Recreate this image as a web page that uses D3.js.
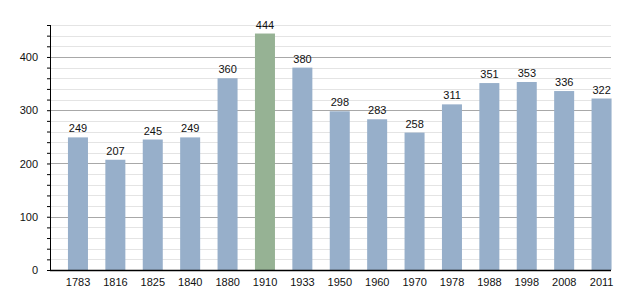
<!DOCTYPE html>
<html>
<head>
    <style>
        body { margin: 0; background: #fff; }
        svg { font-family: "Liberation Sans", Arial, sans-serif; }
        .lbl { font-size: 11px; fill: #111; }
    </style>
</head>
<body>
    <svg width="630" height="300"></svg>

    <script src="https://cdn.jsdelivr.net/npm/d3@7"></script>
    <script>
        // Datos
        var years = ["1783", "1816", "1825", "1840", "1880", "1910", "1933", "1950", "1960", "1970", "1978", "1988", "1998", "2008", "2011"];
        var population = [249, 207, 245, 249, 360, 444, 380, 298, 283, 258, 311, 351, 353, 336, 322];
        var highlight = ["1910"];
        var yTicks = [0, 100, 200, 300, 400];

        var svg = d3.select("svg");
        var mLeft = 50, mRight = 611, mTop = 25, mBottom = 270;

        var x = d3.scaleBand().domain(years).range([mLeft, mRight]).padding(0);
        var y = d3.scaleLinear().domain([0, 460]).range([mBottom, mTop]);
        var bw = x.bandwidth();

        // lineas de cuadricula (menores cada 20, mayores cada 100)
        var minor = d3.range(20, 461, 20).filter(function(v) { return v % 100 !== 0; });
        svg.append("g").selectAll("line").data(minor).enter().append("line")
            .attr("x1", mLeft).attr("x2", mRight)
            .attr("y1", function(d) { return Math.round(y(d)) + 0.5; }).attr("y2", function(d) { return Math.round(y(d)) + 0.5; })
            .attr("stroke", "#e4e4e4").attr("stroke-width", 1);
        svg.append("g").selectAll("line").data(yTicks.slice(1)).enter().append("line")
            .attr("x1", mLeft).attr("x2", mRight)
            .attr("y1", function(d) { return Math.round(y(d)) + 0.5; }).attr("y2", function(d) { return Math.round(y(d)) + 0.5; })
            .attr("stroke", "#a8a8a8").attr("stroke-width", 1);

        // barras
        var data = years.map(function(yr, i) { return { year: yr, value: population[i] }; });
        svg.append("g").selectAll("rect").data(data).enter().append("rect")
            .attr("x", function(d) { return x(d.year) + bw * 0.48; })
            .attr("width", bw * 0.535)
            .attr("y", function(d) { return y(d.value); })
            .attr("height", function(d) { return mBottom - y(d.value); })
            .attr("fill", function(d) { return highlight.indexOf(d.year) >= 0 ? "#96b294" : "#97afca"; });

        // etiquetas de valor
        svg.append("g").selectAll("text").data(data).enter().append("text")
            .attr("class", "lbl")
            .attr("x", function(d) { return x(d.year) + bw * 0.75; })
            .attr("y", function(d) { return y(d.value) - 5; })
            .attr("text-anchor", "middle")
            .text(function(d) { return d.value; });

        // eje Y
        var yAxis = d3.axisLeft(y).tickValues(d3.range(0, 461, 20)).tickSize(3).tickPadding(9)
            .tickFormat(function(d) { return d % 100 === 0 ? d : ""; });
        var gy = svg.append("g").attr("transform", "translate(" + mLeft + ",0)").call(yAxis);
        gy.select(".domain").remove();
        gy.selectAll("text").style("font-size", "11px").attr("fill", "#111");
        gy.selectAll("line").attr("stroke", "#000");
        svg.append("line").attr("x1", mLeft + 0.5).attr("x2", mLeft + 0.5)
            .attr("y1", mTop).attr("y2", mBottom).attr("stroke", "#000");

        // eje X
        var xAxis = d3.axisBottom(x).tickSize(0).tickPadding(8);
        var gx = svg.append("g").attr("transform", "translate(" + (bw * 0.25) + "," + mBottom + ")").call(xAxis);
        gx.select(".domain").remove();
        gx.selectAll("text").style("font-size", "11px").attr("fill", "#111");
        svg.append("line").attr("x1", mLeft).attr("x2", mRight)
            .attr("y1", mBottom + 0.5).attr("y2", mBottom + 0.5).attr("stroke", "#000").attr("stroke-width", 1.5);
    </script>
</body>
</html>
